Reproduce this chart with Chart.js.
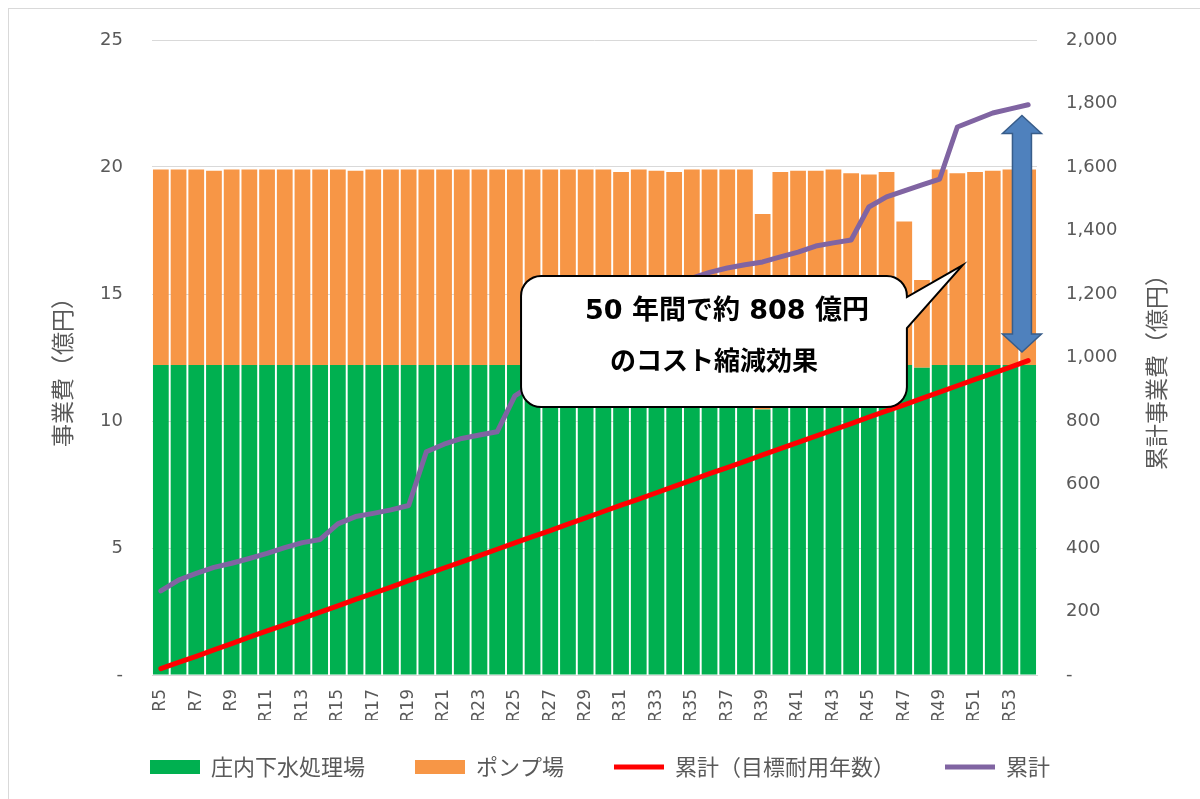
<!DOCTYPE html>
<html lang="ja">
<head>
<meta charset="utf-8">
<title>事業費</title>
<script src="https://cdn.jsdelivr.net/npm/chart.js@4.4.1/dist/chart.umd.min.js"></script>
<style>
    html, body { margin: 0; padding: 0; background: #fff; }
    #wrap { position: relative; width: 1200px; height: 799px; overflow: hidden; }
    #frame { position: absolute; left: 8px; top: 8px; width: 1200px; height: 799px; border-left: 1px solid #d9d9d9; border-top: 1px solid #d9d9d9; }
    canvas { position: absolute; left: 0; top: 0; }
</style>
</head>
<body>
<div id="wrap">
    <div id="frame"></div>
    <canvas id="chart" width="1200" height="799"></canvas>
</div>
<script>
// categories R5 .. R54
const years = [
    'R5', 'R6', 'R7', 'R8', 'R9', 'R10', 'R11', 'R12', 'R13', 'R14',
    'R15', 'R16', 'R17', 'R18', 'R19', 'R20', 'R21', 'R22', 'R23', 'R24',
    'R25', 'R26', 'R27', 'R28', 'R29', 'R30', 'R31', 'R32', 'R33', 'R34',
    'R35', 'R36', 'R37', 'R38', 'R39', 'R40', 'R41', 'R42', 'R43', 'R44',
    'R45', 'R46', 'R47', 'R48', 'R49', 'R50', 'R51', 'R52', 'R53', 'R54'
];

// 庄内下水処理場 (億円)
const plantCost = [
    12.2, 12.2, 12.2, 12.2, 12.2, 12.2, 12.2, 12.2, 12.2, 12.2,
    12.2, 12.2, 12.2, 12.2, 12.2, 12.2, 12.2, 12.2, 12.2, 12.2,
    12.2, 12.2, 12.2, 12.2, 12.2, 12.2, 12.2, 12.2, 12.2, 12.2,
    12.2, 12.2, 12.2, 12.2, 10.45, 12.2, 12.2, 12.2, 12.2, 12.2,
    12.2, 12.2, 12.2, 12.1, 12.2, 12.2, 12.2, 12.2, 12.2, 12.2
];

// ポンプ場 (億円)
const pumpCost = [
    7.7, 7.7, 7.7, 7.65, 7.7, 7.7, 7.7, 7.7, 7.7, 7.7,
    7.7, 7.65, 7.7, 7.7, 7.7, 7.7, 7.7, 7.7, 7.7, 7.7,
    7.7, 7.7, 7.7, 7.7, 7.7, 7.7, 7.6, 7.7, 7.65, 7.6,
    7.7, 7.7, 7.7, 7.7, 7.7, 7.6, 7.65, 7.65, 7.7, 7.55,
    7.5, 7.6, 5.65, 3.45, 7.7, 7.55, 7.6, 7.65, 7.7, 7.7
];

// 累計（目標耐用年数） (億円)
const cumTarget = [
    20, 40, 59, 79, 99, 119, 139, 158, 178, 198,
    218, 238, 257, 277, 297, 317, 337, 356, 376, 396,
    416, 436, 455, 475, 495, 515, 535, 554, 574, 594,
    614, 634, 653, 673, 693, 713, 733, 752, 772, 792,
    812, 832, 851, 871, 891, 911, 931, 950, 970, 990
];

// 累計 (億円)
const cumActual = [
    265, 299, 320, 339, 352, 367, 383, 401, 417, 427,
    476, 499, 509, 520, 534, 703, 727, 745, 756, 766,
    879, 915, 952, 990, 1027, 1064, 1100, 1138, 1175, 1212,
    1250, 1268, 1282, 1292, 1301, 1317, 1332, 1351, 1361, 1370,
    1474, 1506, 1525, 1544, 1562, 1726, 1748, 1770, 1783, 1796
];

const leftTitle = '事業費（億円）';
const rightTitle = '累計事業費（億円）';
const calloutLines = ['50 年間で約 808 億円', 'のコスト縮減効果'];

const jpFont = '"Noto Sans CJK JP", "Noto Sans", sans-serif';
const numFont = '"DejaVu Sans", "Noto Sans", sans-serif';
const textColor = '#595959';

// axis titles drawn rotated, both reading bottom-to-top like the original
const axisTitles = {
    id: 'axisTitles',
    afterDraw(chart) {
        const ctx = chart.ctx;
        const area = chart.chartArea;
        const cy = (area.top + area.bottom) / 2 + 9;
        ctx.save();
        ctx.fillStyle = textColor;
        ctx.font = '23px ' + jpFont;
        ctx.textAlign = 'center';
        ctx.textBaseline = 'middle';
        [[62, leftTitle], [1156, rightTitle]].forEach(([x, text]) => {
            ctx.save();
            ctx.translate(x, cy);
            ctx.rotate(-Math.PI / 2);
            ctx.fillText(text, 0, 0);
            ctx.restore();
        });
        ctx.restore();
    }
};

// move legend row to where the original has it (keep the box open to the bottom so nothing is clipped)
const legendPlace = {
    id: 'legendPlace',
    afterLayout(chart) {
        const lg = chart.legend;
        const pad = lg.options.labels.padding;
        const size = lg.options.labels.font.size;
        const dy = 767 - (lg.top + pad + size / 2);
        lg.top += dy;
        lg.bottom = chart.height;
        lg.height = lg.bottom - lg.top;
    }
};

// speech-bubble and the double arrow
const annotations = {
    id: 'annotations',
    afterDatasetsDraw(chart) {
        const ctx = chart.ctx;
        const xs = chart.scales.x;
        const yl = chart.scales.y;
        const yr = chart.scales.y1;

        // double arrow between the two cumulative lines at the end
        const ax = xs.getPixelForValue(48.65);
        const aTop = yr.getPixelForValue(1762);
        const aBot = yr.getPixelForValue(1017);
        const head = 18, hw = 19.5, sw = 9.5;
        ctx.save();
        ctx.beginPath();
        ctx.moveTo(ax, aTop);
        ctx.lineTo(ax + hw, aTop + head);
        ctx.lineTo(ax + sw, aTop + head);
        ctx.lineTo(ax + sw, aBot - head);
        ctx.lineTo(ax + hw, aBot - head);
        ctx.lineTo(ax, aBot);
        ctx.lineTo(ax - hw, aBot - head);
        ctx.lineTo(ax - sw, aBot - head);
        ctx.lineTo(ax - sw, aTop + head);
        ctx.lineTo(ax - hw, aTop + head);
        ctx.closePath();
        ctx.fillStyle = '#4f81bd';
        ctx.fill();
        ctx.lineWidth = 1.5;
        ctx.strokeStyle = '#385d8a';
        ctx.stroke();
        ctx.restore();

        // callout box with tail
        const l = xs.getPixelForValue(20.35);
        const r = xs.getPixelForValue(42.15);
        const t = yl.getPixelForValue(15.71);
        const b = yl.getPixelForValue(10.55);
        const tipX = xs.getPixelForValue(45.3);
        const tipY = yl.getPixelForValue(16.14);
        const tail1 = yl.getPixelForValue(14.88);
        const tail2 = yl.getPixelForValue(13.66);
        const rad = 20;
        ctx.save();
        ctx.beginPath();
        ctx.moveTo(l + rad, t);
        ctx.lineTo(r - rad, t);
        ctx.arcTo(r, t, r, t + rad, rad);
        ctx.lineTo(r, tail1);
        ctx.lineTo(tipX, tipY);
        ctx.lineTo(r, tail2);
        ctx.lineTo(r, b - rad);
        ctx.arcTo(r, b, r - rad, b, rad);
        ctx.lineTo(l + rad, b);
        ctx.arcTo(l, b, l, b - rad, rad);
        ctx.lineTo(l, t + rad);
        ctx.arcTo(l, t, l + rad, t, rad);
        ctx.closePath();
        ctx.fillStyle = '#ffffff';
        ctx.fill();
        ctx.lineWidth = 2;
        ctx.strokeStyle = '#000000';
        ctx.stroke();

        ctx.fillStyle = '#000000';
        ctx.textAlign = 'center';
        ctx.textBaseline = 'middle';
        ctx.font = 'bold 27px "DejaVu Sans", ' + jpFont;
        ctx.fillText(calloutLines[0], (l + r) / 2 + 13, yl.getPixelForValue(14.29));
        ctx.font = 'bold 26px ' + jpFont;
        ctx.fillText(calloutLines[1], (l + r) / 2, yl.getPixelForValue(12.4));
        ctx.restore();
    }
};

function createChart() {
    const ctx = document.getElementById('chart').getContext('2d');
    return new Chart(ctx, {
        data: {
            labels: years,
            datasets: [
                {
                    type: 'bar',
                    label: '庄内下水処理場',
                    data: plantCost,
                    backgroundColor: '#00b050',
                    borderWidth: 0,
                    pointStyle: 'rect',
                    yAxisID: 'y',
                    order: 2
                },
                {
                    type: 'bar',
                    label: 'ポンプ場',
                    data: pumpCost,
                    backgroundColor: '#f79646',
                    borderWidth: 0,
                    pointStyle: 'rect',
                    yAxisID: 'y',
                    order: 2
                },
                {
                    type: 'line',
                    label: '累計（目標耐用年数）',
                    data: cumTarget,
                    borderColor: '#ff0000',
                    backgroundColor: '#ff0000',
                    borderWidth: 5,
                    borderCapStyle: 'round',
                    borderJoinStyle: 'round',
                    pointRadius: 0,
                    pointStyle: 'line',
                    tension: 0,
                    yAxisID: 'y1',
                    order: 1
                },
                {
                    type: 'line',
                    label: '累計',
                    data: cumActual,
                    borderColor: '#8064a2',
                    backgroundColor: '#8064a2',
                    borderWidth: 5,
                    borderCapStyle: 'round',
                    borderJoinStyle: 'round',
                    pointRadius: 0,
                    pointStyle: 'line',
                    tension: 0,
                    yAxisID: 'y1',
                    order: 1
                }
            ]
        },
        options: {
            responsive: false,
            animation: false,
            layout: {
                padding: { top: 40, left: 0, right: 0, bottom: 0 }
            },
            datasets: {
                bar: {
                    categoryPercentage: 0.89,
                    barPercentage: 1
                }
            },
            plugins: {
                title: { display: false },
                tooltip: { enabled: false },
                legend: {
                    display: true,
                    position: 'bottom',
                    maxHeight: 79,
                    labels: {
                        usePointStyle: true,
                        pointStyleWidth: 50,
                        boxHeight: 14,
                        padding: 50,
                        color: textColor,
                        font: { family: jpFont, size: 22 },
                        sort: (a, b) => a.datasetIndex - b.datasetIndex
                    }
                }
            },
            scales: {
                x: {
                    stacked: true,
                    grid: { display: false },
                    border: { display: true, color: '#d9d9d9', width: 1 },
                    ticks: {
                        autoSkip: false,
                        maxRotation: 90,
                        minRotation: 90,
                        padding: 6,
                        color: textColor,
                        font: { family: numFont, size: 17 },
                        callback: function (value, index) {
                            return index % 2 === 0 ? this.getLabelForValue(value) : '';
                        }
                    },
                    afterFit: (scale) => { scale.height = 45; }
                },
                y: {
                    type: 'linear',
                    position: 'left',
                    stacked: true,
                    min: 0,
                    max: 25,
                    grid: { color: '#d9d9d9', drawTicks: false },
                    border: { display: false },
                    ticks: {
                        stepSize: 5,
                        padding: 29,
                        color: textColor,
                        font: { family: numFont, size: 18 },
                        callback: (v) => v === 0 ? '-' : v
                    },
                    afterFit: (scale) => { scale.width = 152; }
                },
                y1: {
                    type: 'linear',
                    position: 'right',
                    stacked: false,
                    min: 0,
                    max: 2000,
                    grid: { drawOnChartArea: false, drawTicks: false },
                    border: { display: false },
                    ticks: {
                        stepSize: 200,
                        padding: 29,
                        color: textColor,
                        font: { family: numFont, size: 18 },
                        callback: (v) => v === 0 ? '-' : v.toLocaleString('en-US')
                    },
                    afterFit: (scale) => { scale.width = 163; }
                }
            }
        },
        plugins: [axisTitles, legendPlace, annotations]
    });
}

document.addEventListener('DOMContentLoaded', createChart);
</script>
</body>
</html>
